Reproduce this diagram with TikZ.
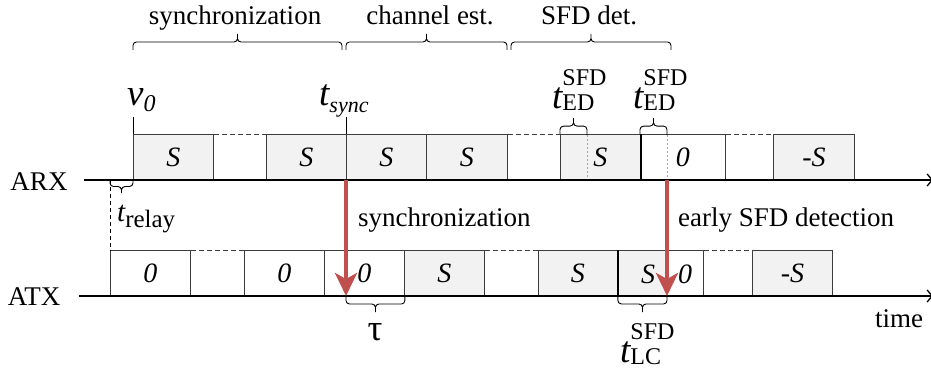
\documentclass[tikz,border=0pt]{standalone}
\usepackage{fontspec}
\setmainfont{Liberation Serif}
\usetikzlibrary{arrows.meta,calc}

\definecolor{slotgray}{RGB}{242,242,242}
\definecolor{edge}{RGB}{60,60,60}
\definecolor{signal}{RGB}{192,80,77}
\definecolor{guide}{RGB}{165,165,165}

% fonts for symbols with scripts
\newcommand\lblbig{\fontsize{37}{40}\selectfont}
\newcommand\lblscr{\fontsize{24}{28}\selectfont}
\newcommand\supsub[3]{{\lblbig\itshape #1}\rlap{\raisebox{23pt}{\lblscr #2}}\raisebox{-2pt}{\lblscr #3}}

% square curly brace between two points; #3 = half height (positive: cusp upwards)
\newcommand\curlyspan[3]{%
  \draw[spanline] let \p1=#1, \p2=#2, \n1={0.5*(\x1+\x2)} in
    (\p1) -- (\x1,{\y1+(#3)}) -- (\n1,{\y1+(#3)}) -- (\n1,{\y1+2*(#3)})
    (\n1,{\y1+2*(#3)}) -- (\n1,{\y1+(#3)}) -- (\x2,{\y1+(#3)}) -- (\p2);}

\begin{document}
\begin{tikzpicture}[x=1pt,y=-1pt,
  txt/.style={font=\fontsize{27}{30}\selectfont, inner sep=0},
  slot/.style={draw=edge, line width=0.9pt, minimum height=45pt, inner sep=0,
    anchor=south west, font=\fontsize{28}{30}\selectfont\itshape},
  full/.style={slot, fill=slotgray},
  empty/.style={slot, fill=white},
  axisline/.style={line width=1.3pt, -{Straight Barb[length=5pt,width=12pt]}},
  gapline/.style={draw=edge, line width=0.9pt, dash pattern=on 5pt off 3pt},
  tick/.style={line width=0.9pt},
  guideline/.style={draw=guide, line width=0.9pt, dash pattern=on 2pt off 2pt},
  spanline/.style={line width=0.9pt, rounded corners=3.5pt},
  sig/.style={draw=signal, line width=4pt, -{Stealth[length=23pt,width=22pt,inset=6pt]}}
]
\useasboundingbox (0,0) rectangle (931,369);

% signal end points
\coordinate (syncA) at (346,180);
\coordinate (syncB) at (346,296);
\coordinate (sfdA) at (667,180);
\coordinate (sfdB) at (667,296);

% ---------- ARX slots ----------
\node[full,  minimum width=80pt] (rx1) at (133,180) {S};
\node[full,  minimum width=80pt] (rx2) at (266,180) {S};
\node[full,  minimum width=80pt] (rx3) at (346,180) {S};
\node[full,  minimum width=81pt] (rx4) at (426,180) {S};
\node[full,  minimum width=80pt] (rx5) at (560,180) {S};
\node[empty, minimum width=85pt] (rx6) at (640,180) {0};
\node[full,  minimum width=81pt] (rx7) at (773,180) {-S};
\draw[gapline] (rx1.north east) -- (rx2.north west);
\draw[gapline] (rx4.north east) -- (rx5.north west);
\draw[gapline] (rx6.north east) -- (rx7.north west);
\draw[line width=2.6pt] (rx5.north east) -- (rx5.south east);

% early detection guides
\coordinate (ed1top) at (587,135);
\coordinate (ed1bot) at (587,180);
\coordinate (ed2top) at (667,135);
\coordinate (ed2bot) at (667,180);
\draw[guideline] (ed1top) -- (ed1bot);
\draw[guideline] (ed2top) -- (ed2bot);

% ---------- ATX slots ----------
\node[empty, minimum width=80pt] (tx1) at (110,296) {0};
\node[empty, minimum width=80pt] (tx2) at (244,296) {0};
\node[empty, minimum width=80pt] (tx3) at (324,296) {0};
\node[full,  minimum width=80pt] (tx4) at (404,296) {S};
\node[full,  minimum width=79pt] (tx5) at (538,296) {S};
\fill[slotgray] (617,251) rectangle (667,296);
\node[slot,  minimum width=86pt] (tx6) at (617,296) {};
\node[full,  minimum width=80pt] (tx7) at (752,296) {-S};
\node[font=\fontsize{28}{30}\selectfont\itshape, inner sep=0] (tx6a) at (648,274) {S};
\node[font=\fontsize{28}{30}\selectfont\itshape, inner sep=0] (tx6b) at (685,274) {0};
\draw[gapline] (tx1.north east) -- (tx2.north west);
\draw[gapline] (tx4.north east) -- (tx5.north west);
\draw[gapline] (tx6.north east) -- (tx7.north west);
\draw[line width=2.6pt] (tx5.north east) -- (tx5.south east);

% ---------- time axes ----------
\node[txt, anchor=base] (arx) at (39,190) {ARX};
\node[txt, anchor=base] (atx) at (34,305) {ATX};
\coordinate (arxend) at (933,180);
\coordinate (atxend) at (933,296);
\draw[axisline] (84,180) -- (arxend);
\draw[axisline] (79,296) -- (atxend);
\node[txt, anchor=base west] (time) at (875,327) {time};

% relay offset
\coordinate (relaytop) at (110,180);
\draw[tick, dash pattern=on 4pt off 3pt] (relaytop) -- (tx1.north west);
\curlyspan{(relaytop)}{(rx1.south west)}{-6.5pt}
\node[anchor=base west, inner sep=0] (trelay) at (117,221)
  {{\fontsize{29}{30}\selectfont\itshape t}\raisebox{-6pt}{\fontsize{25}{28}\selectfont relay}};

% ---------- markers above ARX ----------
\coordinate (v0tick) at (133,117);
\coordinate (synctick) at (346,117);
\draw[tick] (v0tick) -- (rx1.north west);
\draw[tick] (synctick) -- (rx3.north west);
\node[anchor=base west, inner sep=0] (v0) at (127,105)
  {{\lblbig\itshape v}\raisebox{-6pt}{\lblscr\itshape 0}};
\node[anchor=base west, inner sep=0] (tsync) at (319,105)
  {{\lblbig\itshape t}\raisebox{-7pt}{\fontsize{22}{26}\selectfont\itshape sync}};

\curlyspan{(rx5.north west)}{(ed1top)}{8pt}
\curlyspan{(rx6.north west)}{(ed2top)}{8pt}
\node[anchor=base west, inner sep=0] (ted1) at (552,108) {\supsub{t}{SFD}{ED}};
\node[anchor=base west, inner sep=0] (ted2) at (633,108) {\supsub{t}{SFD}{ED}};

% ---------- phases ----------
\coordinate (p1a) at (133,50);
\coordinate (p1b) at (342,50);
\coordinate (p2a) at (346,50);
\coordinate (p2b) at (507,50);
\coordinate (p3a) at (511,50);
\coordinate (p3b) at (671,50);
\curlyspan{(p1a)}{(p1b)}{8pt}
\curlyspan{(p2a)}{(p2b)}{8pt}
\curlyspan{(p3a)}{(p3b)}{8pt}
\node[txt, anchor=base] (ph1) at (235,25) {synchronization};
\node[txt, anchor=base] (ph2) at (430,25) {channel est.};
\node[txt, anchor=base] (ph3) at (589,25) {SFD det.};

% ---------- braces below ATX ----------
\curlyspan{(syncB)}{(tx3.south east)}{-8pt}
\curlyspan{(tx5.south east)}{(sfdB)}{-8pt}
\node[anchor=base, inner sep=0, font=\lblbig] (tau) at (375,340) {τ};
\node[anchor=base west, inner sep=0] (tlc) at (620,362) {\supsub{t}{SFD}{LC}};

% ---------- signalling arrows ----------
\draw[sig] (syncA) -- (syncB);
\draw[sig] (sfdA) -- (sfdB);
\node[txt, anchor=base west] (lsync) at (358,226) {synchronization};
\node[txt, anchor=base west] (lsfd) at (678,226) {early SFD detection};
\end{tikzpicture}
\end{document}
